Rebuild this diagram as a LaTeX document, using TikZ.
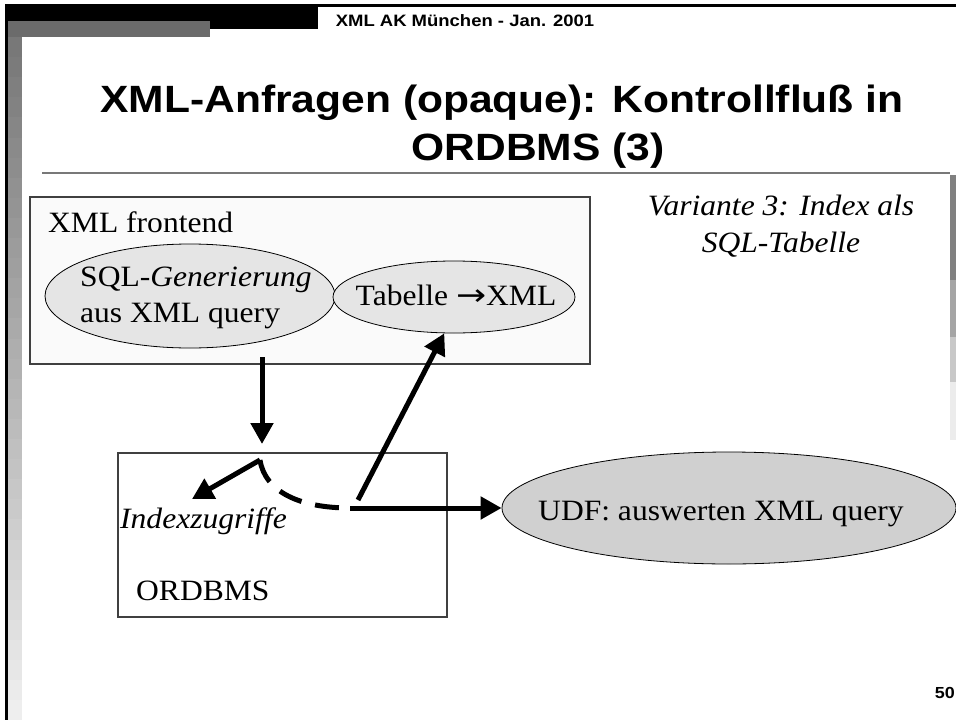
\documentclass[tikz,border=0pt]{standalone}
\usepackage{fontspec}
\setmainfont[FakeStretch=1.07]{Liberation Serif}
\newfontfamily\hdfont[FakeStretch=1.12]{Liberation Sans}
\newfontfamily\arrfont[FakeStretch=1.2]{DejaVu Sans}
\usetikzlibrary{arrows.meta,shapes.geometric}
\definecolor{ellA}{RGB}{229,229,229}
\definecolor{ellB}{RGB}{208,208,208}
\definecolor{boxfill}{RGB}{250,250,250}
\definecolor{framec}{RGB}{64,64,64}
\definecolor{barA}{RGB}{107,107,107}
\definecolor{ruleC}{RGB}{120,120,120}
\definecolor{rb1}{RGB}{128,128,128}
\definecolor{rb2}{RGB}{165,165,165}
\definecolor{rb3}{RGB}{200,200,200}
\definecolor{rb4}{RGB}{236,236,236}
\begin{document}
\begin{tikzpicture}[x=1pt,y=-1pt,
  serif/.style={font=\fontsize{29.5}{34}\selectfont, inner sep=0pt},
  serifit/.style={font=\fontsize{29.5}{34}\selectfont\itshape, inner sep=0pt},
  boxst/.style={draw=framec, line width=1.3pt, rectangle, inner sep=0pt},
  ellst/.style={draw=black, line width=0.8pt, ellipse, inner sep=0pt},
  arr/.style={line width=5pt, -{Triangle[length=21pt,width=22pt]}},
  dsh/.style={line width=5pt, dash pattern=on 24pt off 14pt}
]
\useasboundingbox (0,0) rectangle (956,720);
\fill[white] (0,0) rectangle (956,720);
% slide frame
\fill[black] (5,5) rectangle (318,29);
\fill[black] (5,4) rectangle (956,6.5);
\fill[black] (5,5) rectangle (8,720);
\fill[barA] (8,21) rectangle (210,37);
\foreach \i in {0,...,33}{
  \pgfmathsetmacro{\ya}{37+\i*20.1}
  \pgfmathsetmacro{\yb}{37+(\i+1)*20.1+0.5}
  \pgfmathtruncatemacro{\gv}{120+\i*3.6}
  \definecolor{stepc}{RGB}{\gv,\gv,\gv}
  \fill[stepc] (8,\ya) rectangle (22,\yb);
}
\fill[rb1] (950,175) rectangle (956,280);
\fill[rb2] (950,280) rectangle (956,337);
\fill[rb3] (950,337) rectangle (956,382);
\fill[rb4] (950,382) rectangle (956,440);
\draw[ruleC, line width=1.3pt] (42,173) -- (950,173);
% header and title
\node[anchor=base, inner sep=0pt, font=\hdfont\bfseries\fontsize{16.5}{19}\selectfont] (hdr) at (465,27) {XML AK München - Jan. 2001};
\node[anchor=base, inner sep=0pt, font=\hdfont\bfseries\fontsize{38}{44}\selectfont] (t1) at (502,112) {XML-Anfragen (opaque): Kontrollfluß in};
\node[anchor=base, inner sep=0pt, font=\hdfont\bfseries\fontsize{38}{44}\selectfont] (t2) at (538,160) {ORDBMS (3)};
\node[anchor=base east, inner sep=0pt, font=\hdfont\bfseries\fontsize{16}{19}\selectfont] (pg) at (955,698) {50};
% frontend box
\node[boxst, fill=boxfill, minimum width=560pt, minimum height=167pt] (fe) at (310,280.5) {};
\node[serif, anchor=base west] (fetxt) at (48,232) {XML frontend};
\node[ellst, fill=ellA, minimum width=290pt, minimum height=104pt] (gen) at (190,296) {};
\node[serif, anchor=base west] (gen1) at (80,286) {SQL-\textit{Generierung}};
\node[serif, anchor=base west] (gen2) at (80,322) {aus XML query};
\node[ellst, fill=ellA, minimum width=242pt, minimum height=72pt] (tab) at (454,297) {};
\node[serif, anchor=base] (tabtxt) at (456,305) {Tabelle {\arrfont\fontsize{30}{34}\selectfont →}XML};
% variant text
\node[serifit, anchor=base] (var1) at (781,215) {Variante 3: Index als};
\node[serifit, anchor=base] (var2) at (781,252) {SQL-Tabelle};
% ORDBMS box
\node[boxst, fill=white, minimum width=329pt, minimum height=164pt] (db) at (282.5,535) {};
\node[serifit, anchor=base west] (idx) at (120,528) {Indexzugriffe};
\node[serif, anchor=base west] (dbtxt) at (136,600) {ORDBMS};
% UDF
\node[ellst, fill=ellB, minimum width=454pt, minimum height=112pt] (udf) at (729,508) {};
\node[serif, anchor=base] (udftxt) at (721,520) {UDF: auswerten XML query};
% connectors
\coordinate (downstart) at (262,357);
\coordinate (downend) at (262,444);
\coordinate (split) at (260,460);
\coordinate (idxin) at (192,499);
\coordinate (joint) at (350,508);
\coordinate (upstart) at (358,500);
\draw[arr] (downstart) -- (downend);
\draw[arr] (split) -- (idxin);
\draw[dsh] (split) .. controls (265,492) and (300,508) .. (joint);
\draw[arr] (joint) -- (udf.west);
\draw[arr] (upstart) -- (tab.255);
\end{tikzpicture}
\end{document}
